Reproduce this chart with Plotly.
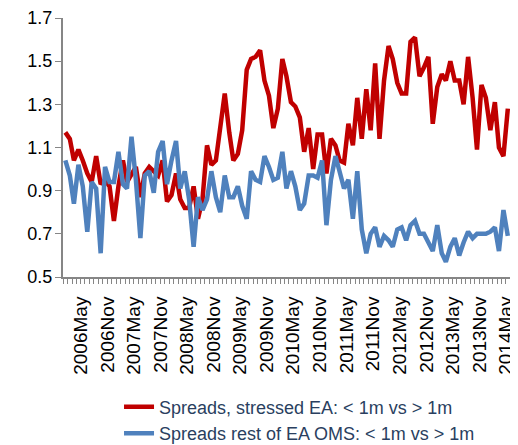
import pandas as pd
import plotly.graph_objs as go

# monthly observations, Jan 2006 - May 2014
months = pd.date_range(start="2006-01-01", periods=101, freq="MS")

stressed = [
    1.17, 1.14, 1.04, 1.09, 1.04, 0.98, 0.94, 1.06, 0.93, 0.95,
    0.92, 0.76, 0.92, 1.04, 0.94, 0.98, 1.01, 0.87, 0.98, 1.01,
    0.99, 0.97, 1.04, 0.85, 0.88, 0.98, 0.86, 0.82, 0.82, 0.92,
    0.77, 0.86, 1.11, 1.02, 1.04, 1.20, 1.35, 1.17, 1.04, 1.07,
    1.18, 1.46, 1.51, 1.52, 1.55, 1.41, 1.34, 1.19, 1.28, 1.51,
    1.43, 1.31, 1.29, 1.24, 1.08, 1.19, 1.00, 1.16, 1.16, 0.98,
    1.14, 1.11, 1.04, 1.03, 1.21, 1.11, 1.33, 1.14, 1.37, 1.18,
    1.49, 1.14, 1.41, 1.57, 1.51, 1.40, 1.35, 1.35, 1.59, 1.61,
    1.43, 1.47, 1.52, 1.21, 1.38, 1.44, 1.41, 1.50, 1.41, 1.41,
    1.30, 1.52, 1.33, 1.09, 1.39, 1.33, 1.18, 1.31, 1.10, 1.06,
    1.28,
]

rest_oms = [
    1.04, 0.97, 0.84, 1.02, 0.92, 0.71, 0.94, 0.91, 0.61, 1.01,
    0.94, 0.94, 1.08, 0.93, 0.91, 1.15, 0.95, 0.68, 0.97, 0.99,
    0.89, 1.08, 1.13, 0.93, 1.04, 1.13, 0.91, 0.99, 0.86, 0.64,
    0.87, 0.81, 0.86, 0.99, 0.87, 0.80, 0.97, 0.87, 0.87, 0.92,
    0.83, 0.77, 0.99, 0.95, 0.94, 1.06, 1.01, 0.95, 0.96, 1.08,
    0.91, 0.99, 0.92, 0.81, 0.84, 0.97, 0.97, 0.96, 1.04, 0.74,
    0.95, 1.06, 0.99, 0.91, 0.95, 0.77, 0.99, 0.72, 0.61, 0.70,
    0.73, 0.64, 0.69, 0.67, 0.64, 0.72, 0.73, 0.67, 0.74, 0.76,
    0.70, 0.70, 0.66, 0.62, 0.74, 0.61, 0.57, 0.64, 0.68, 0.60,
    0.66, 0.71, 0.68, 0.70, 0.70, 0.70, 0.71, 0.73, 0.62, 0.81,
    0.69,
]

names = [
    "Spreads, stressed EA: < 1m vs > 1m",
    "Spreads rest of EA OMS: < 1m vs > 1m",
]

fig = go.Figure()
fig.add_trace(go.Scatter(
    x=months, y=stressed, name=names[0], mode="lines",
    line={"color": "#C00000", "width": 4.5}, legendgroup="a",
))
fig.add_trace(go.Scatter(
    x=months, y=rest_oms, name=names[1], mode="lines",
    line={"color": "#4F81BD", "width": 4.5}, legendgroup="b",
))

axis_grey = "#868686"
fig.update_xaxes(
    range=["2005-12-16", "2014-05-16"], automargin=False,
    tick0="2006-05-01", dtick="M6", tickformat="%Y%b", tickangle=-90,
    ticks="", showline=True, linecolor=axis_grey, linewidth=2,
    showgrid=False, zeroline=False,
    ticklabelstandoff=10, ticklabelshift=-2,
    minor={"ticks": "outside", "tick0": "2005-12-16", "dtick": "M1",
           "ticklen": 5, "tickcolor": axis_grey, "showgrid": False},
    tickfont={"size": 19, "color": "#000000"},
)
fig.update_yaxes(
    range=[0.5, 1.7], dtick=0.2, tick0=0.5, tickformat=".1f", automargin=False,
    ticks="outside", ticklen=6, tickcolor=axis_grey,
    showline=True, linecolor=axis_grey, linewidth=2,
    showgrid=False, zeroline=False, ticklabelstandoff=-1,
    tickfont={"size": 18, "color": "#000000"},
)
# page body keeps its default 8px margin, so the figure is 8px smaller each way
fig.update_layout(
    width=510, height=437,
    margin={"l": 55, "r": 8, "t": 10, "b": 168, "autoexpand": False},
    plot_bgcolor="white", paper_bgcolor="white",
    font={"family": "Liberation Sans, Arial, sans-serif", "size": 18},
    legend={"xref": "container", "yref": "container",
            "x": 0.2177, "y": 0.129, "xanchor": "left", "yanchor": "top",
            "tracegroupgap": 0, "font": {"size": 18},
            "bgcolor": "rgba(0,0,0,0)"},
)

fig.write_html("out.html")
